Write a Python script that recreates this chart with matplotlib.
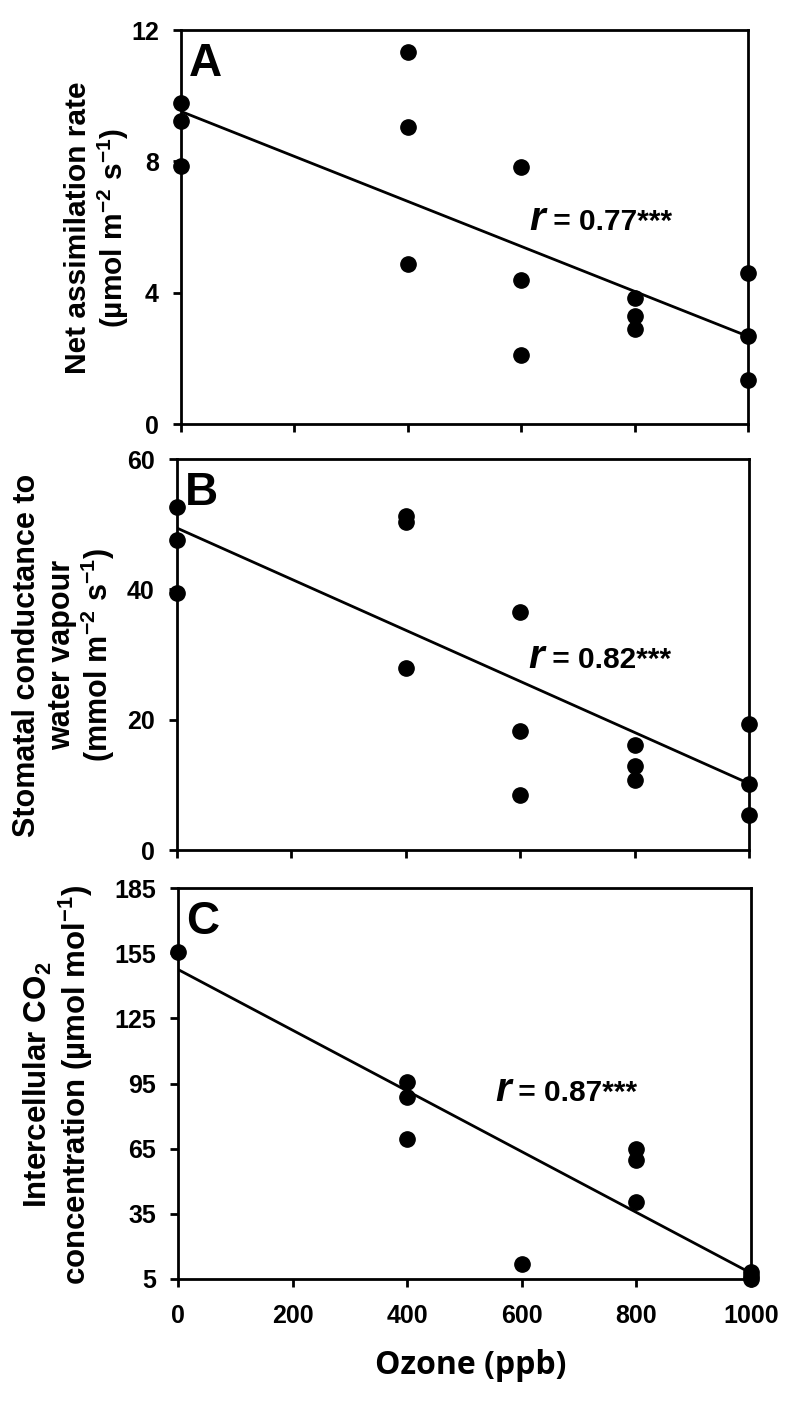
import matplotlib
matplotlib.use("Agg")
import matplotlib.pyplot as plt
import numpy as np

plt.rcParams['font.family'] = ['Liberation Sans', 'DejaVu Sans']
plt.rcParams['mathtext.default'] = 'regular'

# ---- data ----
ozone_ticks = [0, 200, 400, 600, 800, 1000]

a_x = [0, 0, 0, 400, 400, 400, 600, 600, 600, 800, 800, 800, 1000, 1000, 1000]
a_y = [9.77, 9.24, 7.86, 11.34, 9.05, 4.88, 7.83, 4.39, 2.11, 3.84, 3.28, 2.90, 4.60, 2.67, 1.34]
a_fit = [9.52, 2.67]          # fitted line at ozone 0 and 1000
a_r = "0.77***"

b_x = [0, 0, 0, 400, 400, 400, 600, 600, 600, 800, 800, 800, 1000, 1000, 1000]
b_y = [52.6, 47.5, 39.4, 51.3, 50.3, 27.9, 36.5, 18.2, 8.5, 16.1, 12.9, 10.8, 19.3, 10.1, 5.4]
b_fit = [49.4, 10.2]
b_r = "0.82***"

c_x = [0, 400, 400, 400, 600, 800, 800, 800, 1000, 1000, 1000]
c_y = [155.5, 95.8, 88.6, 69.4, 11.9, 65.0, 60.0, 40.3, 8.0, 6.5, 5.0]
c_fit = [147.5, 7.7]
c_r = "0.87***"

W, H = 800, 1405
fig = plt.figure(figsize=(W / 100, H / 100), dpi=100)

def axrect(l, r, t, b):
    return [l / W, 1 - b / H, (r - l) / W, (b - t) / H]

axA = fig.add_axes(axrect(181, 748, 30, 424))
axB = fig.add_axes(axrect(177, 749, 459, 850))
axC = fig.add_axes(axrect(178, 751, 888, 1279))

panels = [
    (axA, a_x, a_y, a_fit, a_r, (0, 12), [0, 4, 8, 12], 'A', (615, 5.9)),
    (axB, b_x, b_y, b_fit, b_r, (0, 60), [0, 20, 40, 60], 'B', (614, 27.9)),
    (axC, c_x, c_y, c_fit, c_r, (5, 185), [5, 35, 65, 95, 125, 155, 185], 'C', (553, 86.9)),
]

for ax, xs, ys, fit, rtxt, ylim, yt, letter, rpos in panels:
    ax.set_xlim(0, 1000)
    ax.set_ylim(*ylim)
    ax.plot([0, 1000], fit, color='black', lw=2.0, zorder=2)
    ax.plot(xs, ys, 'o', color='black', ms=11, clip_on=False, zorder=3)
    ax.set_xticks(ozone_ticks)
    ax.set_yticks(yt)
    for s in ax.spines.values():
        s.set_linewidth(2.0)
    ax.tick_params(direction='out', length=6, width=2.0, labelsize=18)
    ax.tick_params(axis='y', pad=10)
    ax.tick_params(axis='x', pad=12)
    for lab in ax.get_yticklabels() + ax.get_xticklabels():
        lab.set_fontweight('bold')
    ax.text(0.014, 0.97, letter, transform=ax.transAxes, fontsize=33,
            fontweight='bold', va='top', ha='left')
    t1 = ax.text(rpos[0], rpos[1], 'r', fontsize=29, fontweight='bold',
                 style='italic', va='baseline', ha='left')
    ax.annotate(' = ' + rtxt, xy=(1, 0), xycoords=t1, xytext=(0, 1.5),
                textcoords='offset points', fontsize=21.5, fontweight='bold',
                va='bottom', ha='left')

axA.set_xticklabels([])
axB.set_xticklabels([])

# y labels
fig.text(78 / W, 1 - 228 / H, 'Net assimilation rate', rotation=90, fontsize=21.5,
         fontweight='bold', ha='center', va='center')
fig.text(113 / W, 1 - 228 / H, r'(µmol m$^{-2}$ s$^{-1}$)', rotation=90, fontsize=21.5,
         fontweight='bold', ha='center', va='center')

fig.text(27 / W, 1 - 655 / H, 'Stomatal conductance to', rotation=90, fontsize=22,
         fontweight='bold', ha='center', va='center')
fig.text(62 / W, 1 - 655 / H, 'water vapour', rotation=90, fontsize=22,
         fontweight='bold', ha='center', va='center')
fig.text(98 / W, 1 - 655 / H, r'(mmol m$^{-2}$ s$^{-1}$)', rotation=90, fontsize=22,
         fontweight='bold', ha='center', va='center')

fig.text(38 / W, 1 - 1085 / H, r'Intercellular CO$_2$', rotation=90, fontsize=22.5,
         fontweight='bold', ha='center', va='center')
fig.text(76 / W, 1 - 1085 / H, r'concentration (µmol mol$^{-1}$)', rotation=90, fontsize=22.5,
         fontweight='bold', ha='center', va='center')

fig.text(471 / W, 1 - 1366 / H, 'Ozone (ppb)', fontsize=23, fontweight='bold',
         family=['Open Sans', 'DejaVu Sans'], ha='center', va='center')

fig.savefig('out.png', dpi=100)
